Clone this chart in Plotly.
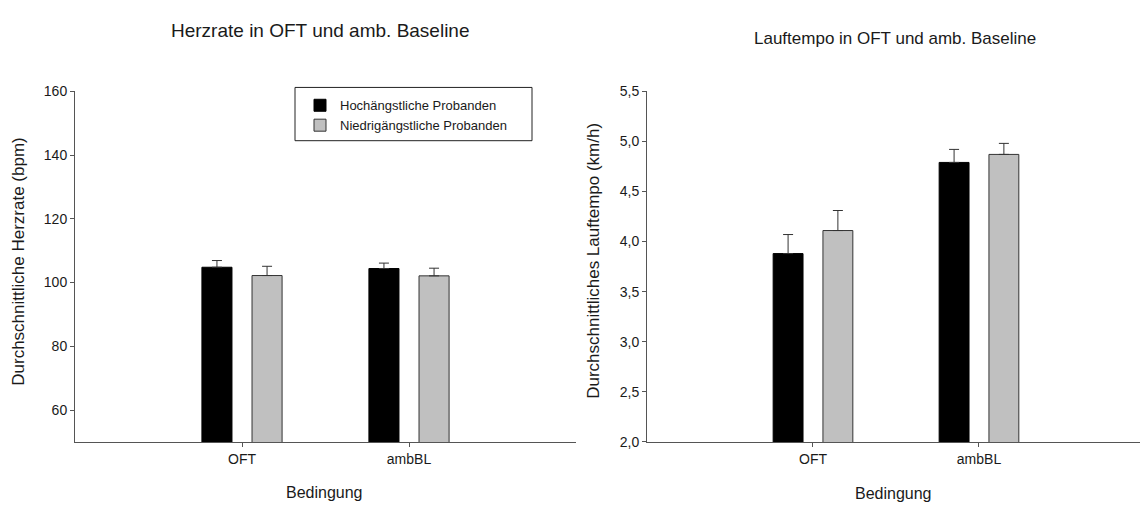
import plotly.graph_objects as go

categories = ["OFT", "ambBL"]
x_pos = [1, 2]
series_names = ["Hochängstliche Probanden", "Niedrigängstliche Probanden"]

hr_high = [104.8, 104.4]
hr_high_err = [2.1, 1.7]
hr_low = [102.2, 102.1]
hr_low_err = [2.9, 2.4]

speed_high = [3.88, 4.79]
speed_high_err = [0.19, 0.13]
speed_low = [4.11, 4.87]
speed_low_err = [0.20, 0.11]

hr_ticks = [60, 80, 100, 120, 140, 160]
speed_ticks = [2.0, 2.5, 3.0, 3.5, 4.0, 4.5, 5.0, 5.5]

W, H = 1140, 509
FONT = "Liberation Sans, Arial, sans-serif"
TXT = "#1a1a1a"
colors = ["#000000", "#c0c0c0"]
lines = ["#000000", "#333333"]

fig = go.Figure()

def add_bars(xaxis, yaxis, vals, errs, show):
    for i in range(2):
        fig.add_trace(go.Bar(
            x=x_pos, y=vals[i], name=series_names[i],
            marker=dict(color=colors[i], line=dict(color=lines[i], width=1)),
            error_y=dict(type="data", array=errs[i], arrayminus=[0, 0], symmetric=False,
                         color="#333333", thickness=1, width=5),
            xaxis=xaxis, yaxis=yaxis, showlegend=show, offsetgroup=str(i),
        ))

add_bars("x", "y", [hr_high, hr_low], [hr_high_err, hr_low_err], True)
add_bars("x2", "y2", [speed_high, speed_low], [speed_high_err, speed_low_err], False)

def px_x(p):
    return p / W

def px_y(p):
    return 1 - p / H

axis_common = dict(showline=True, linecolor="#555555", linewidth=1, ticks="outside",
                   ticklen=4, tickcolor="#555555", showgrid=False, zeroline=False,
                   tickfont=dict(family=FONT, size=14, color=TXT))

ydom = [px_y(448), px_y(86)]

fig.update_layout(
    width=W, height=H,
    margin=dict(l=0, r=0, t=0, b=0),
    plot_bgcolor="white", paper_bgcolor="white",
    separators=",.",
    barmode="group", bargap=0.4, bargroupgap=0.4,
    font=dict(family=FONT, color=TXT),
    xaxis=dict(domain=[px_x(75), px_x(576)], range=[0, 3], tickvals=x_pos,
               ticktext=categories, anchor="y", **axis_common),
    yaxis=dict(domain=ydom, range=[50, 160], tickvals=hr_ticks, anchor="x", **axis_common),
    xaxis2=dict(domain=[px_x(647), 1.0], range=[0, 2.97], tickvals=x_pos,
                ticktext=categories, anchor="y2", **axis_common),
    yaxis2=dict(domain=ydom, range=[2.0, 5.5], tickvals=speed_ticks, tickformat=".1f",
                anchor="x2", **axis_common),
    legend=dict(x=px_x(300), y=px_y(85), xanchor="left", yanchor="top",
                borderwidth=0, bgcolor="rgba(0,0,0,0)",
                font=dict(family=FONT, size=13, color=TXT),
                tracegroupgap=0),
)

# legend frame
fig.add_shape(type="rect", xref="paper", yref="paper",
              x0=px_x(295), x1=px_x(532), y0=px_y(137), y1=px_y(82),
              line=dict(color="#222222", width=1), fillcolor="rgba(0,0,0,0)", layer="above")

ann = [
    ("Herzrate in OFT und amb. Baseline", 320, 23, 0, 19),
    ("Lauftempo in OFT und amb. Baseline", 895, 31, 0, 17),
    ("Bedingung", 324, 500, 0, 16),
    ("Bedingung", 893, 501, 0, 16),
    ("Durchschnittliche Herzrate (bpm)", 19, 262, -90, 17),
    ("Durchschnittliches Lauftempo (km/h)", 594, 261, -90, 17),
]
for text, x, y, ang, sz in ann:
    fig.add_annotation(text=text, x=px_x(x), y=px_y(y), xref="paper", yref="paper",
                       showarrow=False, textangle=ang, xanchor="center", yanchor="middle",
                       font=dict(family=FONT, size=sz, color=TXT))

fig.write_html("out.html", config={"displayModeBar": False},
               post_script="document.body.style.margin='0';document.documentElement.style.overflow='hidden';")
